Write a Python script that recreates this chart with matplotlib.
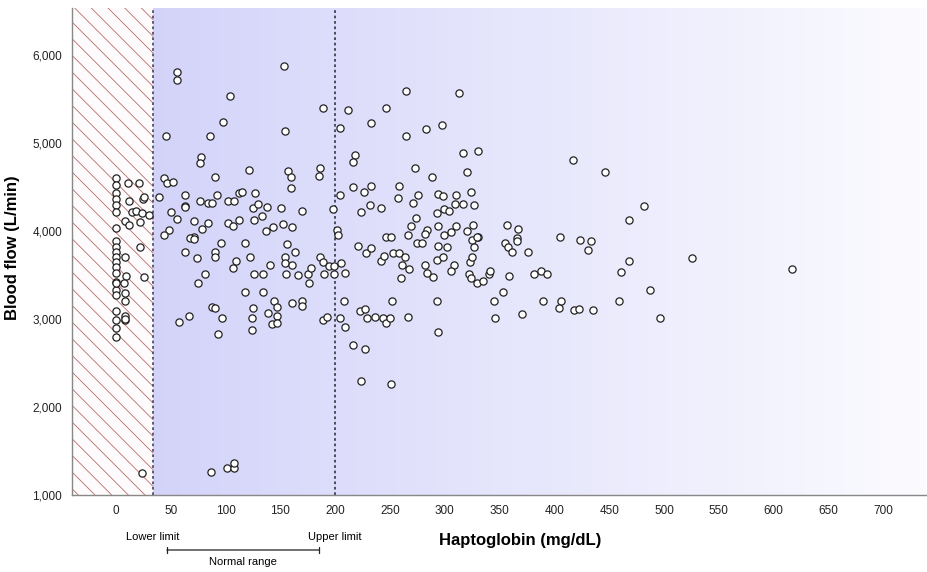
"""Blood flow vs haptoglobin scatter with normal-range shading"""
import matplotlib.pyplot as plt
import numpy as np
from matplotlib.ticker import FuncFormatter
from matplotlib.patches import Rectangle
import matplotlib.transforms as mtransforms

# Haptoglobin (mg/dL) and blood flow (L/min) for each patient
hapto = [
    # below the lower limit
    0, 0, 0, 0, 0, 0, 0, 0, 0, 0, 0, 0, 0, 0, 0, 0, 0, 0, 0, 0, 0, 0,
    11, 21, 12, 25, 26, 15, 18, 24, 30, 8, 12, 22, 22, 8, 26, 9, 7, 8, 8, 8, 8, 8, 24,
    # normal range
    56, 56, 104, 98, 46, 86, 78, 77, 90, 44, 47, 52, 39, 63, 63, 77, 84, 88, 92, 102, 108,
    112, 50, 56, 71, 84, 102, 107, 48, 44, 79, 71, 63, 68, 71, 96, 63, 74, 90, 90, 110, 107,
    81, 75, 88, 90, 67, 58, 97, 93,
    153, 189, 154, 204, 212, 121, 157, 160, 186, 185, 160, 115, 127, 125, 130, 138, 133, 151,
    170, 198, 204, 112, 126, 137, 143, 152, 161, 202, 203,
    118, 122, 141, 156, 163, 154, 154, 161, 155, 166, 175, 178, 176, 186, 189, 194, 199, 205,
    190, 199, 209, 126, 134, 118, 134, 144, 147, 161, 170, 170, 125, 124, 124, 139, 147, 142,
    147, 189, 193, 204, 209, 208, 87, 101, 108, 108,
    # above the upper limit
    265, 313, 246, 233, 265, 283, 297, 218, 216, 317, 330, 320, 273, 288, 216, 226, 233, 258,
    257, 276, 271, 294, 298, 310, 324, 232, 224, 242, 293, 299, 304, 309, 317, 327, 274, 269,
    294, 310, 306, 299, 320, 326, 330, 284, 282, 266, 246, 251, 357, 367, 366,
    275, 279, 294, 302, 325, 329, 327, 355, 358, 361, 366, 376, 221, 228, 233, 242, 245, 253,
    258, 264, 261, 267, 260, 282, 284, 289, 293, 298, 308, 306, 323, 325, 322, 324, 329, 335,
    340, 341, 359, 381, 388, 393, 353, 345, 346, 370, 390, 223, 227, 229, 236, 244, 246, 250,
    252, 266, 293, 294, 216, 227, 224, 251,
    417, 446, 482, 468, 405, 423, 433, 431, 525, 617, 468, 461, 487, 406, 404, 418, 422, 435,
    459, 496,
]
flow = [
    4600, 4520, 4430, 4360, 4300, 4220, 4030, 3890, 3820, 3760, 3700, 3650, 3590, 3520, 3420,
    3330, 3270, 3090, 2990, 2900, 2800, 3410,
    4545, 4545, 4340, 4360, 4390, 4216, 4230, 4200, 4180, 4115, 4070, 4100, 3820, 3705, 3480,
    3490, 3410, 3295, 3205, 3035, 2990, 3000, 1250,
    5807, 5716, 5534, 5239, 5080, 5080, 4840, 4773, 4614, 4600, 4545, 4557, 4386, 4409, 4284,
    4341, 4318, 4318, 4409, 4341, 4341, 4432, 4216, 4136, 4114, 4091, 4091, 4057, 4011, 3955,
    4023, 3932, 4273, 3920, 3909, 3864, 3761, 3693, 3761, 3705, 3659, 3580, 3511, 3409, 3136,
    3130, 3034, 2966, 3011, 2830,
    5875, 5398, 5136, 5170, 5375, 4693, 4682, 4614, 4716, 4625, 4489, 4443, 4432, 4261, 4307,
    4273, 4170, 4261, 4227, 4250, 4409, 4125, 4125, 4000, 4045, 4080, 4045, 4011, 3955,
    3864, 3705, 3614, 3852, 3761, 3705, 3636, 3614, 3511, 3500, 3511, 3580, 3409, 3705, 3648,
    3602, 3602, 3636, 3511, 3511, 3523, 3511, 3511, 3307, 3307, 3205, 3136, 3182, 3205, 3148,
    3125, 3011, 2875, 3068, 3034, 2943, 2955, 2989, 3023, 3011, 2909, 3205, 1261, 1307, 1307,
    1364,
    5591, 5568, 5398, 5227, 5080, 5159, 5205, 4864, 4784, 4886, 4909, 4670, 4716, 4614, 4500,
    4443, 4511, 4511, 4375, 4409, 4318, 4420, 4398, 4409, 4443, 4295, 4216, 4261, 4205, 4250,
    4227, 4307, 4307, 4295, 4148, 4057, 4057, 4057, 3989, 3955, 4000, 4068, 3932, 4011, 3966,
    3955, 3932, 3932, 4068, 4023, 3920,
    3864, 3864, 3830, 3818, 3898, 3932, 3818, 3864, 3818, 3761, 3886, 3761, 3830, 3750, 3807,
    3659, 3716, 3750, 3750, 3705, 3614, 3568, 3466, 3614, 3523, 3477, 3670, 3705, 3614, 3545,
    3648, 3705, 3511, 3466, 3409, 3432, 3511, 3545, 3489, 3511, 3545, 3511, 3307, 3205, 3011,
    3057, 3205, 3091, 3114, 3011, 3023, 3011, 2955, 3011, 3205, 3023, 3205, 2852, 2705, 2659,
    2295, 2261,
    4807, 4670, 4284, 4125, 3932, 3898, 3886, 3784, 3693, 3568, 3659, 3534, 3330, 3205, 3125,
    3102, 3114, 3102, 3205, 3011,
]

lower_limit = 34
upper_limit = 200
x_ticks = list(range(0, 701, 50))
y_ticks = [1000, 2000, 3000, 4000, 5000, 6000]

xmin, xmax = -40, 739
ymin, ymax = 1000, 6530

plt.rcParams['font.family'] = ['Arial', 'Liberation Sans', 'DejaVu Sans']
plt.rcParams['hatch.linewidth'] = 0.55

fig = plt.figure(figsize=(9.28, 5.72), dpi=100)
ax = fig.add_axes([0.0776, 0.1346, 0.9204, 0.851])
ax.set_xlim(xmin, xmax)
ax.set_ylim(ymin, ymax)

# blue shading fading to white above the lower limit
grad = np.linspace(0, 1, 256).reshape(1, -1)
start = np.array([0.83, 0.83, 0.98])
end = np.array([0.985, 0.985, 1.0])
img = start + (end - start) * grad[..., None]
ax.imshow(img, extent=[lower_limit, xmax, ymin, ymax], aspect='auto', zorder=0)

# hatched region below the lower limit
ax.add_patch(Rectangle((xmin, ymin), lower_limit - xmin, ymax - ymin,
                       facecolor='#fdfbfb', edgecolor='#b86060', hatch='\\\\',
                       linewidth=0, zorder=0.5))

ax.axvline(lower_limit, color='#505068', linestyle=(0, (1.5, 1.5)), linewidth=1.3, zorder=1)
ax.axvline(upper_limit, color='#404050', linestyle=(0, (1.5, 1.5)), linewidth=1.3, zorder=1)

ax.scatter(hapto, flow, s=27, facecolor='white', edgecolor='#222222', linewidth=0.9, zorder=3)

ax.set_xticks(x_ticks)
ax.set_yticks(y_ticks)
ax.yaxis.set_major_formatter(FuncFormatter(lambda v, p: f"{int(v):,}"))
ax.tick_params(length=0, labelsize=8.5, colors='#222222', pad=7)
for s in ['top', 'right']:
    ax.spines[s].set_visible(False)
for s in ['left', 'bottom']:
    ax.spines[s].set_color('#888888')
    ax.spines[s].set_linewidth(1.0)

fig.text(13 / 928, 1 - 248 / 572, "Blood flow (L/min)", fontsize=12, fontweight='bold',
         rotation=90, ha='center', va='center')
fig.text(520 / 928, 1 - 541 / 572, "Haptoglobin (mg/dL)", fontsize=12, fontweight='bold',
         ha='center', va='center')

# normal range annotation below the axis
trans = mtransforms.blended_transform_factory(ax.transData, fig.transFigure)
ax.text(lower_limit, 1 - 537 / 572, "Lower limit", transform=trans, ha='center', va='center',
        fontsize=8, clip_on=False)
ax.text(upper_limit, 1 - 537 / 572, "Upper limit", transform=trans, ha='center', va='center',
        fontsize=8, clip_on=False)
ax.annotate('', xy=(44, 1 - 550 / 572), xytext=(188, 1 - 550 / 572), xycoords=trans,
            textcoords=trans, arrowprops=dict(arrowstyle='|-|,widthA=0.25,widthB=0.25',
                                              color='#222222', lw=0.9), annotation_clip=False)
ax.text(116, 1 - 562 / 572, "Normal range", transform=trans, ha='center', va='center',
        fontsize=8, clip_on=False)

plt.savefig("out.png", dpi=100)
